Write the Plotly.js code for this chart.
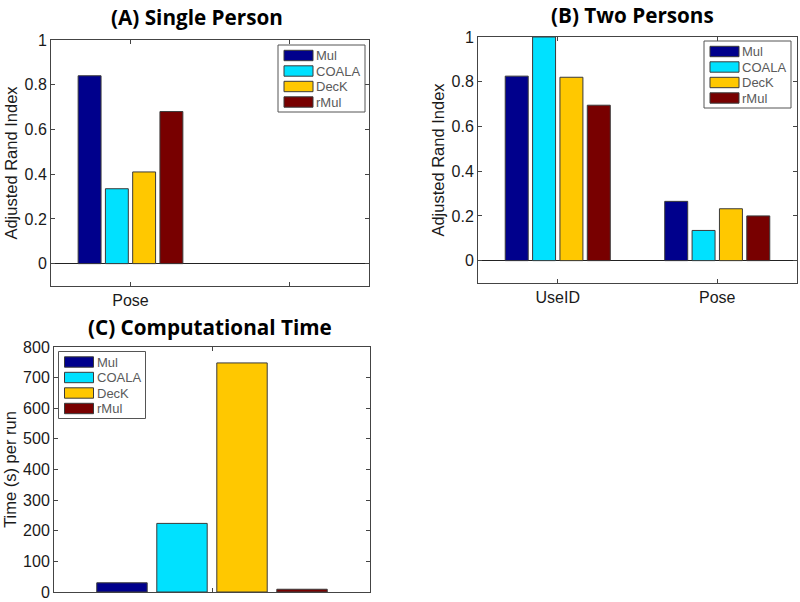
<!DOCTYPE html>
<html>
<head>
<meta charset="utf-8">
<script src="https://cdn.plot.ly/plotly-3.0.1.min.js"></script>
<style>html,body{margin:0;padding:0;background:#fff;}#chart{width:800px;height:602px;}</style>
</head>
<body>
<div id="chart"></div>
<script>
// ---- data ----
const methods = ['Mul', 'COALA', 'DecK', 'rMul'];
const methodColors = ['#00008C', '#00E1FF', '#FFC800', '#780000'];

// (A) Single Person: one category
const singleTicks = ['Pose', ''];
const singleARI = [0.84, 0.335, 0.41, 0.68]; // Mul, COALA, DecK, rMul

// (B) Two Persons
const twoTicks = ['UseID', 'Pose'];
const twoMul = [0.825, 0.265];
const twoCOALA = [1.0, 0.135];
const twoDecK = [0.82, 0.232];
const twoRMul = [0.695, 0.2];
const twoARI = [twoMul, twoCOALA, twoDecK, twoRMul];

// (C) Computational time (s per run)
const timeSec = [30, 224, 748, 9];

// ---- build ----
const fontFam = '"Liberation Sans", Arial, Helvetica, sans-serif';
const traces = [];
methods.forEach((m, i) => {
  const mk = {color: methodColors[i], line: {color: '#3a3a3a', width: 1}};
  traces.push({type: 'bar', x: [1], y: [singleARI[i]], name: m, marker: mk,
    xaxis: 'x', yaxis: 'y', showlegend: false, hoverinfo: 'y'});
  traces.push({type: 'bar', x: twoTicks.map((c, j) => j + 1), y: twoARI[i], name: m, marker: mk,
    xaxis: 'x2', yaxis: 'y2', showlegend: false, hoverinfo: 'y'});
  traces.push({type: 'bar', x: [1], y: [timeSec[i]], name: m, marker: mk,
    xaxis: 'x3', yaxis: 'y3', showlegend: false, hoverinfo: 'y'});
});

const W = 800, H = 602;
const px = v => v / W;
const py = v => 1 - v / H;

const axBase = {
  showline: true, mirror: 'allticks', linecolor: '#444', linewidth: 1,
  ticks: 'inside', ticklen: 4, tickcolor: '#444', showgrid: false, zeroline: false,
  tickfont: {family: fontFam, size: 16, color: '#1a1a1a'}, automargin: false, fixedrange: true
};
const yTitleFont = {family: fontFam, size: 16.5, color: '#1a1a1a'};
const titleFont = {family: '"Open Sans", Lato, sans-serif', size: 20.7, color: '#000', weight: 'bold'};

// MATLAB-style legend boxes (large swatches), built from methods/methodColors
const shapes = [];
const annotations = [];
function addLegend(left, top) {
  const w = 87, h = 67;
  shapes.push({type: 'rect', xref: 'paper', yref: 'paper', x0: px(left), x1: px(left + w),
    y0: py(top + h), y1: py(top), line: {color: '#555', width: 1}, fillcolor: '#fff', layer: 'above'});
  methods.forEach((m, i) => {
    const cy = top + 10.5 + i * 15.5;
    shapes.push({type: 'rect', xref: 'paper', yref: 'paper', x0: px(left + 6), x1: px(left + 35),
      y0: py(cy + 5.2), y1: py(cy - 5.2), line: {color: '#3a3a3a', width: 1},
      fillcolor: methodColors[i], layer: 'above'});
    annotations.push({text: m, xref: 'paper', yref: 'paper', x: px(left + 36), y: py(cy),
      xanchor: 'left', yanchor: 'middle', showarrow: false,
      font: {family: fontFam, size: 13, color: '#5a5a5a'}});
  });
}
addLegend(278, 45);
addLegend(704, 41);
addLegend(58.5, 351.5);

annotations.push(
  {text: '(A) Single Person', xref: 'paper', yref: 'paper', x: px(197), y: py(17),
    xanchor: 'center', yanchor: 'middle', showarrow: false, font: titleFont},
  {text: '(B) Two Persons', xref: 'paper', yref: 'paper', x: px(632), y: py(15),
    xanchor: 'center', yanchor: 'middle', showarrow: false, font: titleFont},
  {text: '(C) Computational Time', xref: 'paper', yref: 'paper', x: px(210), y: py(327),
    xanchor: 'center', yanchor: 'middle', showarrow: false, font: titleFont}
);

const layout = {
  width: W, height: H,
  margin: {l: 0, r: 0, t: 0, b: 0},
  paper_bgcolor: '#fff', plot_bgcolor: '#fff',
  barmode: 'group', bargap: 0.314, bargroupgap: 0.16,
  showlegend: false,
  xaxis: Object.assign({}, axBase, {domain: [px(51), px(369)], range: [0.5, 2.5],
    tickvals: [1, 2], ticktext: singleTicks, anchor: 'y'}),
  yaxis: Object.assign({}, axBase, {domain: [py(286), py(40)], range: [-0.1, 1], dtick: 0.2, tick0: 0,
    zeroline: true, zerolinecolor: '#222', zerolinewidth: 1, anchor: 'x',
    title: {text: 'Adjusted Rand Index', font: yTitleFont, standoff: 2}}),
  xaxis2: Object.assign({}, axBase, {domain: [px(478), px(797)], range: [0.5, 2.5],
    tickvals: [1, 2], ticktext: twoTicks, anchor: 'y2'}),
  yaxis2: Object.assign({}, axBase, {domain: [py(283), py(37)], range: [-0.1, 1], dtick: 0.2, tick0: 0,
    zeroline: true, zerolinecolor: '#222', zerolinewidth: 1, anchor: 'x2',
    title: {text: 'Adjusted Rand Index', font: yTitleFont, standoff: 2}}),
  xaxis3: Object.assign({}, axBase, {domain: [px(54), px(370)], range: [0.5485, 1.4515],
    tickvals: [1], ticktext: [''], anchor: 'y3'}),
  yaxis3: Object.assign({}, axBase, {domain: [py(592), py(347)], range: [0, 800], dtick: 100, tick0: 0,
    anchor: 'x3', title: {text: 'Time (s) per run', font: yTitleFont, standoff: 2}}),
  shapes: shapes,
  annotations: annotations
};

Plotly.newPlot('chart', traces, layout, {displayModeBar: false, staticPlot: true});
</script>
</body>
</html>
